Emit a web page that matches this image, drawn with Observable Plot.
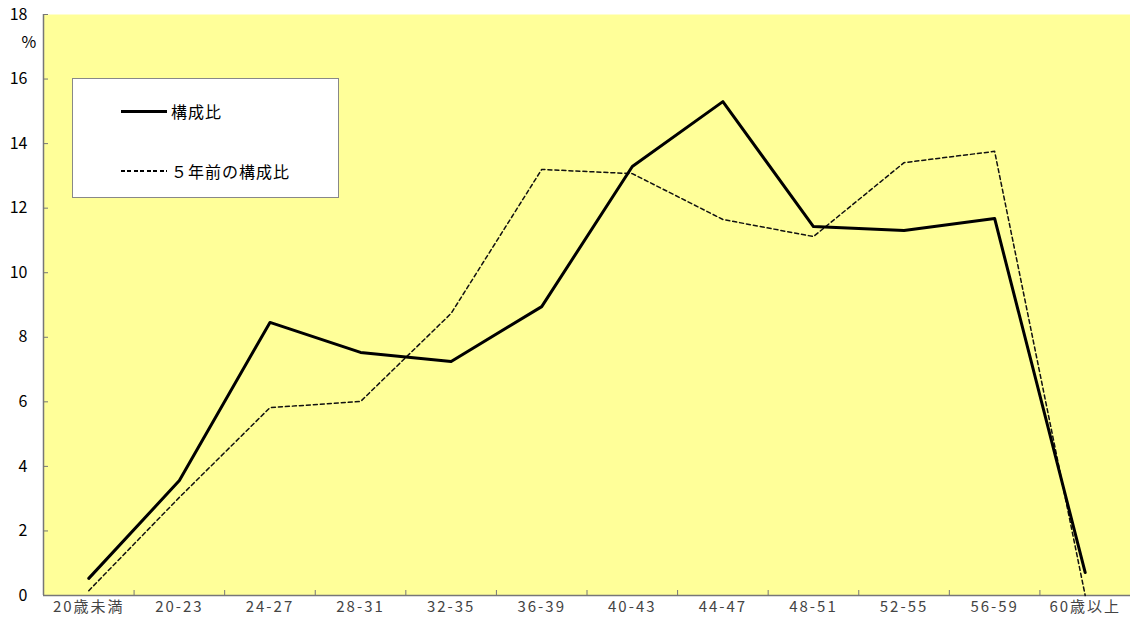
<!DOCTYPE html>
<html><head><meta charset="utf-8">
<script src="https://cdn.jsdelivr.net/npm/d3@7"></script>
<script src="https://cdn.jsdelivr.net/npm/@observablehq/plot@0.6"></script>
<style>
body{margin:0;background:#fff;font-family:"Noto Sans CJK JP",sans-serif}
#wrap{position:relative;width:1130px;height:622px}
#legend{position:absolute;left:72px;top:78px;width:265px;height:118px;background:#fff;border:1px solid #888;box-sizing:content-box}
.item{position:absolute;left:48px;display:flex;align-items:center;font-size:16px;letter-spacing:1px;color:#000}
.sw{width:46px;margin-right:4px}
.dash{height:1.5px;background:repeating-linear-gradient(90deg,#000 0 4px,transparent 4px 6.5px)}
svg [aria-label="x-axis tick label"] text{letter-spacing:2px}
</style></head><body>
<div id="wrap"></div>
<script>
const categories = ["20歳未満","20-23","24-27","28-31","32-35","36-39","40-43","44-47","48-51","52-55","56-59","60歳以上"];
const current = [0.53, 3.56, 8.46, 7.53, 7.25, 8.95, 13.29, 15.3, 11.43, 11.31, 11.68, 0.71];
const previous = [0.15, 3.04, 5.82, 6.01, 8.74, 13.2, 13.07, 11.65, 11.12, 13.41, 13.76, 0.0];
const seriesNames = ["構成比", "５年前の構成比"];
const yTicks = [0, 2, 4, 6, 8, 10, 12, 14, 16, 18];

const W = 1130, H = 622, mL = 43, mR = 0, mT = 14, mB = 27;
const step = (W - mL - mR) / categories.length;
const plotH = H - mT - mB, plotW = W - mL - mR;
const rowsCur = categories.map((c, i) => ({cat: c, v: current[i]}));
const rowsPrev = categories.map((c, i) => ({cat: c, v: previous[i]}));

const chart = Plot.plot({
  width: W, height: H,
  marginLeft: mL, marginRight: mR, marginTop: mT, marginBottom: mB,
  style: {fontFamily: '"Noto Sans CJK JP", sans-serif', background: "white"},
  x: {type: "point", domain: categories, padding: 0.5, round: false},
  y: {domain: [0, 18]},
  marks: [
    Plot.frame({fill: "#ffff99", stroke: null}),
    Plot.tickX([categories[0]], {x: d => d, dx: -step / 2, stroke: "#777", strokeWidth: 1.5}),
    Plot.ruleY([0], {stroke: "#777", strokeWidth: 1.5}),
    Plot.tickX(categories.slice(1), {x: d => d, dx: -step / 2, stroke: "#777", insetTop: plotH - 5}),
    Plot.tickY(yTicks, {y: d => d, stroke: "#777", insetRight: plotW - 5}),
    Plot.axisY({ticks: yTicks, tickSize: 0, tickPadding: 16, fontSize: 16, fill: "#000", label: null}),
    Plot.axisX({tickSize: 0, tickPadding: 6, fontSize: 15, fill: "#444", label: null}),
    Plot.text(["%"], {frameAnchor: "top-left", dx: -22, dy: 22, fontSize: 16, fill: "#000"}),
    Plot.line(rowsPrev, {x: "cat", y: "v", stroke: "#111", strokeWidth: 1.5, strokeDasharray: "4,3"}),
    Plot.line(rowsCur, {x: "cat", y: "v", stroke: "#000", strokeWidth: 3})
  ]
});
const wrap = document.getElementById("wrap");
wrap.appendChild(chart);
const legend = document.createElement("div");
legend.id = "legend";
legend.innerHTML = `
<div class="item" style="top:20px"><div class="sw" style="border-top:3px solid #000"></div><span>${seriesNames[0]}</span></div>
<div class="item" style="top:80px"><div class="sw dash"></div><span>${seriesNames[1]}</span></div>`;
wrap.appendChild(legend);
</script>
</body></html>
